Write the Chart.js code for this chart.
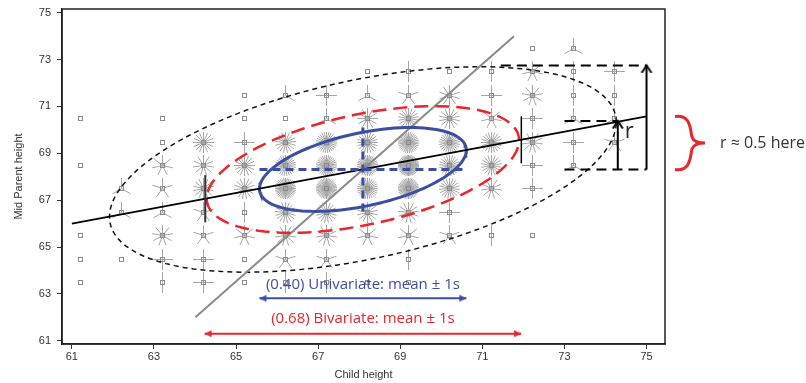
<!DOCTYPE html>
<html>
<head>
<meta charset="utf-8">
<script src="https://cdn.jsdelivr.net/npm/chart.js@4.4.1/dist/chart.umd.min.js"></script>
<style>
html, body { margin: 0; padding: 0; background: #fff; }
</style>
</head>
<body>
<canvas id="galtonChart" width="806" height="383"></canvas>
<script>
// Galton table: child height columns, mid-parent height rows (bottom to top)
const childHeights = [61.2, 62.2, 63.2, 64.2, 65.2, 66.2, 67.2, 68.2, 69.2, 70.2, 71.2, 72.2, 73.2, 74.2];
const parentHeights = [63.5, 64.5, 65.5, 66.5, 67.5, 68.5, 69.5, 70.5, 71.5, 72.5, 73.5];
const counts = [
  [1, 0, 2, 4, 1, 2, 2, 1, 1, 0, 0, 0, 0, 0],
  [1, 1, 4, 4, 1, 5, 5, 0, 2, 0, 0, 0, 0, 0],
  [1, 0, 9, 5, 7, 11, 11, 7, 7, 5, 2, 1, 0, 0],
  [0, 3, 3, 5, 2, 17, 17, 14, 13, 4, 0, 0, 0, 0],
  [0, 3, 5, 14, 15, 36, 38, 28, 38, 19, 11, 4, 0, 0],
  [1, 0, 7, 11, 16, 25, 31, 34, 48, 21, 18, 4, 3, 0],
  [0, 0, 1, 16, 4, 17, 27, 20, 33, 25, 20, 11, 4, 5],
  [1, 0, 1, 0, 1, 1, 3, 12, 18, 14, 7, 4, 3, 3],
  [0, 0, 0, 0, 1, 3, 4, 3, 5, 10, 4, 9, 2, 2],
  [0, 0, 0, 0, 0, 0, 0, 1, 2, 1, 2, 7, 2, 4],
  [0, 0, 0, 0, 0, 0, 0, 0, 0, 0, 0, 1, 3, 0]
];

const xTicks = [61, 63, 65, 67, 69, 71, 73, 75];
const yTicks = [61, 63, 65, 67, 69, 71, 73, 75];

// summary stats
const meanChild = 68.09, meanParent = 68.31;
const sdChild = 2.52, sdParent = 1.79, rho = 0.46;
const ellipseLevels = [1.0, 1.51, 2.45];   // 40%, 68%, 95%

// lines
const regX = [61, 75], regY = [66.0, 70.58];
const grayX = [64.01, 71.77], grayY = [62, 74];
const tickLeftX = [64.25, 64.25], tickLeftY = [66.05, 68.07];
const tickRightX = [71.95, 71.95], tickRightY = [68.57, 70.58];

// r annotation
const rTopX = [71.45, 75.0], rTopY = [72.75, 72.75];
const rMidX = [73.0, 74.3], rMidY = [70.38, 70.38];
const rBaseX = [73.0, 75.0], rBaseY = [68.31, 68.31];
const rArrow1X = [74.3, 74.3], rArrow1Y = [68.31, 70.38];
const rArrow2X = [75.0, 75.0], rArrow2Y = [68.31, 72.75];

// bottom arrows
const blueArrowY = 62.81, redArrowY = 61.3;

const BLUE = '#3a4fa2', RED = '#e8262b';

function chevron() {
  const c = document.createElement('canvas');
  c.width = 16; c.height = 16;
  const g = c.getContext('2d');
  g.strokeStyle = '#000';
  g.lineWidth = 2;
  g.beginPath();
  g.moveTo(3, 15.5); g.lineTo(8, 8); g.lineTo(13, 15.5);
  g.stroke();
  return c;
}

function head(color) {
  const c = document.createElement('canvas');
  c.width = 16; c.height = 16;
  const g = c.getContext('2d');
  g.fillStyle = color;
  g.beginPath();
  g.moveTo(8, 8); g.lineTo(15, 4.5); g.lineTo(15, 11.5); g.closePath();
  g.fill();
  return c;
}

const flowerPoints = [];
parentHeights.forEach((py, i) => {
  childHeights.forEach((cx, j) => {
    const n = counts[i][j];
    if (n > 0) flowerPoints.push({ x: cx, y: py, n: n });
  });
});

function ellipse(c) {
  const pts = [];
  for (let k = 0; k <= 120; k++) {
    const t = 2 * Math.PI * k / 120;
    pts.push({
      x: meanChild + c * sdChild * Math.cos(t),
      y: meanParent + c * sdParent * (rho * Math.cos(t) + Math.sqrt(1 - rho * rho) * Math.sin(t))
    });
  }
  return pts;
}

function seg(xs, ys, color, width, dash, order, extra) {
  return Object.assign({
    data: xs.map((x, i) => ({ x: x, y: ys[i] })),
    showLine: true,
    borderColor: color,
    borderWidth: width,
    borderDash: dash,
    pointRadius: 0,
    tension: 0,
    fill: false,
    order: order
  }, extra || {});
}

const upHead = chevron();
const blueHead = head(BLUE), redHead = head(RED);

const labelFont = { family: 'Liberation Sans', size: 11 };

// sunflowers: square + one ray per observation, at the points laid out by the scatter dataset
const sunflowers = {
  id: 'sunflowers',
  beforeDatasetsDraw(chart) {
    const ctx = chart.ctx;
    const meta = chart.getDatasetMeta(0);
    ctx.save();
    meta.data.forEach((pt, i) => {
      const n = flowerPoints[i].n;
      const px = Math.round(pt.x) + 0.5, py = Math.round(pt.y) + 0.5;
      ctx.lineWidth = 1;
      ctx.strokeStyle = '#a5a5a5';
      if (n > 1) {
        ctx.beginPath();
        for (let k = 1; k <= n; k++) {
          const a = 2 * Math.PI * k / n;
          ctx.moveTo(px, py);
          ctx.lineTo(px + 10.5 * Math.sin(a), py - 10.5 * Math.cos(a));
        }
        ctx.stroke();
      }
      ctx.strokeStyle = '#8c8c8c';
      ctx.strokeRect(px - 2, py - 2, 4, 4);
    });
    ctx.restore();
  }
};

const annotate = {
  id: 'annotate',
  afterDraw(chart) {
    const { ctx, chartArea: a, scales: { x, y } } = chart;
    ctx.save();
    // box
    ctx.strokeStyle = '#222';
    ctx.lineWidth = 1.5;
    ctx.strokeRect(a.left, a.top, a.right - a.left, a.bottom - a.top);

    ctx.textAlign = 'center';
    ctx.textBaseline = 'middle';
    ctx.font = '15px "Open Sans"';
    ctx.fillStyle = BLUE;
    ctx.fillText('(0.40) Univariate: mean ± 1s', x.getPixelForValue(meanChild), y.getPixelForValue(63.38));
    ctx.fillStyle = RED;
    ctx.fillText('(0.68) Bivariate: mean ± 1s', x.getPixelForValue(meanChild), y.getPixelForValue(61.93));

    ctx.font = '22px "Open Sans"';
    ctx.fillStyle = '#23283a';
    ctx.fillText('r', x.getPixelForValue(74.58), y.getPixelForValue(69.9));

    // curly brace outside the plot
    const top = y.getPixelForValue(70.57), bot = y.getPixelForValue(68.31);
    const mid = (top + bot) / 2;
    const bx = a.right + 10;
    ctx.strokeStyle = RED;
    ctx.lineWidth = 3;
    ctx.beginPath();
    ctx.moveTo(bx, top);
    ctx.bezierCurveTo(bx + 16, top - 2, bx + 15, mid - 14, bx + 17, mid - 6);
    ctx.quadraticCurveTo(bx + 19, mid, bx + 30, mid);
    ctx.quadraticCurveTo(bx + 19, mid, bx + 17, mid + 6);
    ctx.bezierCurveTo(bx + 15, mid + 14, bx + 16, bot + 2, bx, bot);
    ctx.stroke();

    ctx.textAlign = 'left';
    ctx.textBaseline = 'alphabetic';
    ctx.font = '16px "Open Sans"';
    ctx.fillStyle = '#333';
    ctx.fillText('r ≈ 0.5 here', bx + 45, mid + 5);
    ctx.restore();
  }
};

new Chart(document.getElementById('galtonChart'), {
  type: 'scatter',
  data: {
    datasets: [
      { data: flowerPoints, pointRadius: 0, showLine: false, order: 20 },
      Object.assign(seg([], [], '#111', 1.5, [5, 4], 10), { data: ellipse(ellipseLevels[2]) }),
      seg(grayX, grayY, '#8a8a8a', 2, [], 9),
      Object.assign(seg([], [], RED, 2.5, [14, 7], 8), { data: ellipse(ellipseLevels[1]) }),
      Object.assign(seg([], [], BLUE, 3, [], 7), { data: ellipse(ellipseLevels[0]) }),
      seg(regX, regY, '#000', 1.8, [], 6),
      seg([meanChild - sdChild, meanChild + sdChild], [meanParent, meanParent], BLUE, 3, [8, 5], 5),
      seg([meanChild, meanChild], [meanParent - sdParent, meanParent + sdParent], BLUE, 3, [8, 5], 5),
      seg(tickLeftX, tickLeftY, '#333', 2, [], 4),
      seg(tickRightX, tickRightY, '#000', 1.5, [], 4),
      seg(rTopX, rTopY, '#000', 2, [10, 6], 4),
      seg(rMidX, rMidY, '#000', 2, [10, 6], 4),
      seg(rBaseX, rBaseY, '#000', 2, [10, 6], 4),
      seg(rArrow1X, rArrow1Y, '#000', 2, [], 3, { pointRadius: [0, 1], pointStyle: ['circle', upHead] }),
      seg(rArrow2X, rArrow2Y, '#000', 2, [], 3, { pointRadius: [0, 1], pointStyle: ['circle', upHead] }),
      seg([meanChild - sdChild, meanChild + sdChild], [blueArrowY, blueArrowY], BLUE, 2, [], 3,
        { pointRadius: 1, pointStyle: blueHead, pointRotation: [0, 180] }),
      seg([meanChild - 1.53 * sdChild, meanChild + 1.53 * sdChild], [redArrowY, redArrowY], RED, 2, [], 3,
        { pointRadius: 1, pointStyle: redHead, pointRotation: [0, 180] })
    ]
  },
  options: {
    responsive: false,
    animation: false,
    events: [],
    layout: { padding: { top: 9, right: 141, left: 0, bottom: 0 } },
    plugins: { legend: { display: false }, tooltip: { enabled: false } },
    scales: {
      x: {
        type: 'linear',
        min: 60.76,
        max: 75.45,
        afterBuildTicks: (s) => { s.ticks = xTicks.map(v => ({ value: v })); },
        afterFit: (s) => { s.height = 39; s.paddingLeft = 0; s.paddingRight = 0; },
        grid: { drawOnChartArea: false, tickLength: 5, tickColor: '#333', tickWidth: 1 },
        border: { color: '#222', width: 1.5 },
        ticks: { color: '#333', font: labelFont, padding: 1, maxRotation: 0, autoSkip: false },
        title: { display: true, text: 'Child height', color: '#333', font: labelFont, padding: { top: 0, bottom: 1 } }
      },
      y: {
        type: 'linear',
        min: 60.86,
        max: 75.16,
        afterBuildTicks: (s) => { s.ticks = yTicks.map(v => ({ value: v })); },
        afterFit: (s) => { s.width = 62; s.paddingTop = 0; s.paddingBottom = 0; },
        grid: { drawOnChartArea: false, tickLength: 5, tickColor: '#333', tickWidth: 1 },
        border: { color: '#222', width: 1.5 },
        ticks: { color: '#333', font: labelFont, padding: 6, autoSkip: false },
        title: { display: true, text: 'Mid Parent height', color: '#333', font: labelFont, padding: { top: 12, bottom: 0 } }
      }
    }
  },
  plugins: [sunflowers, annotate]
});
</script>
</body>
</html>
